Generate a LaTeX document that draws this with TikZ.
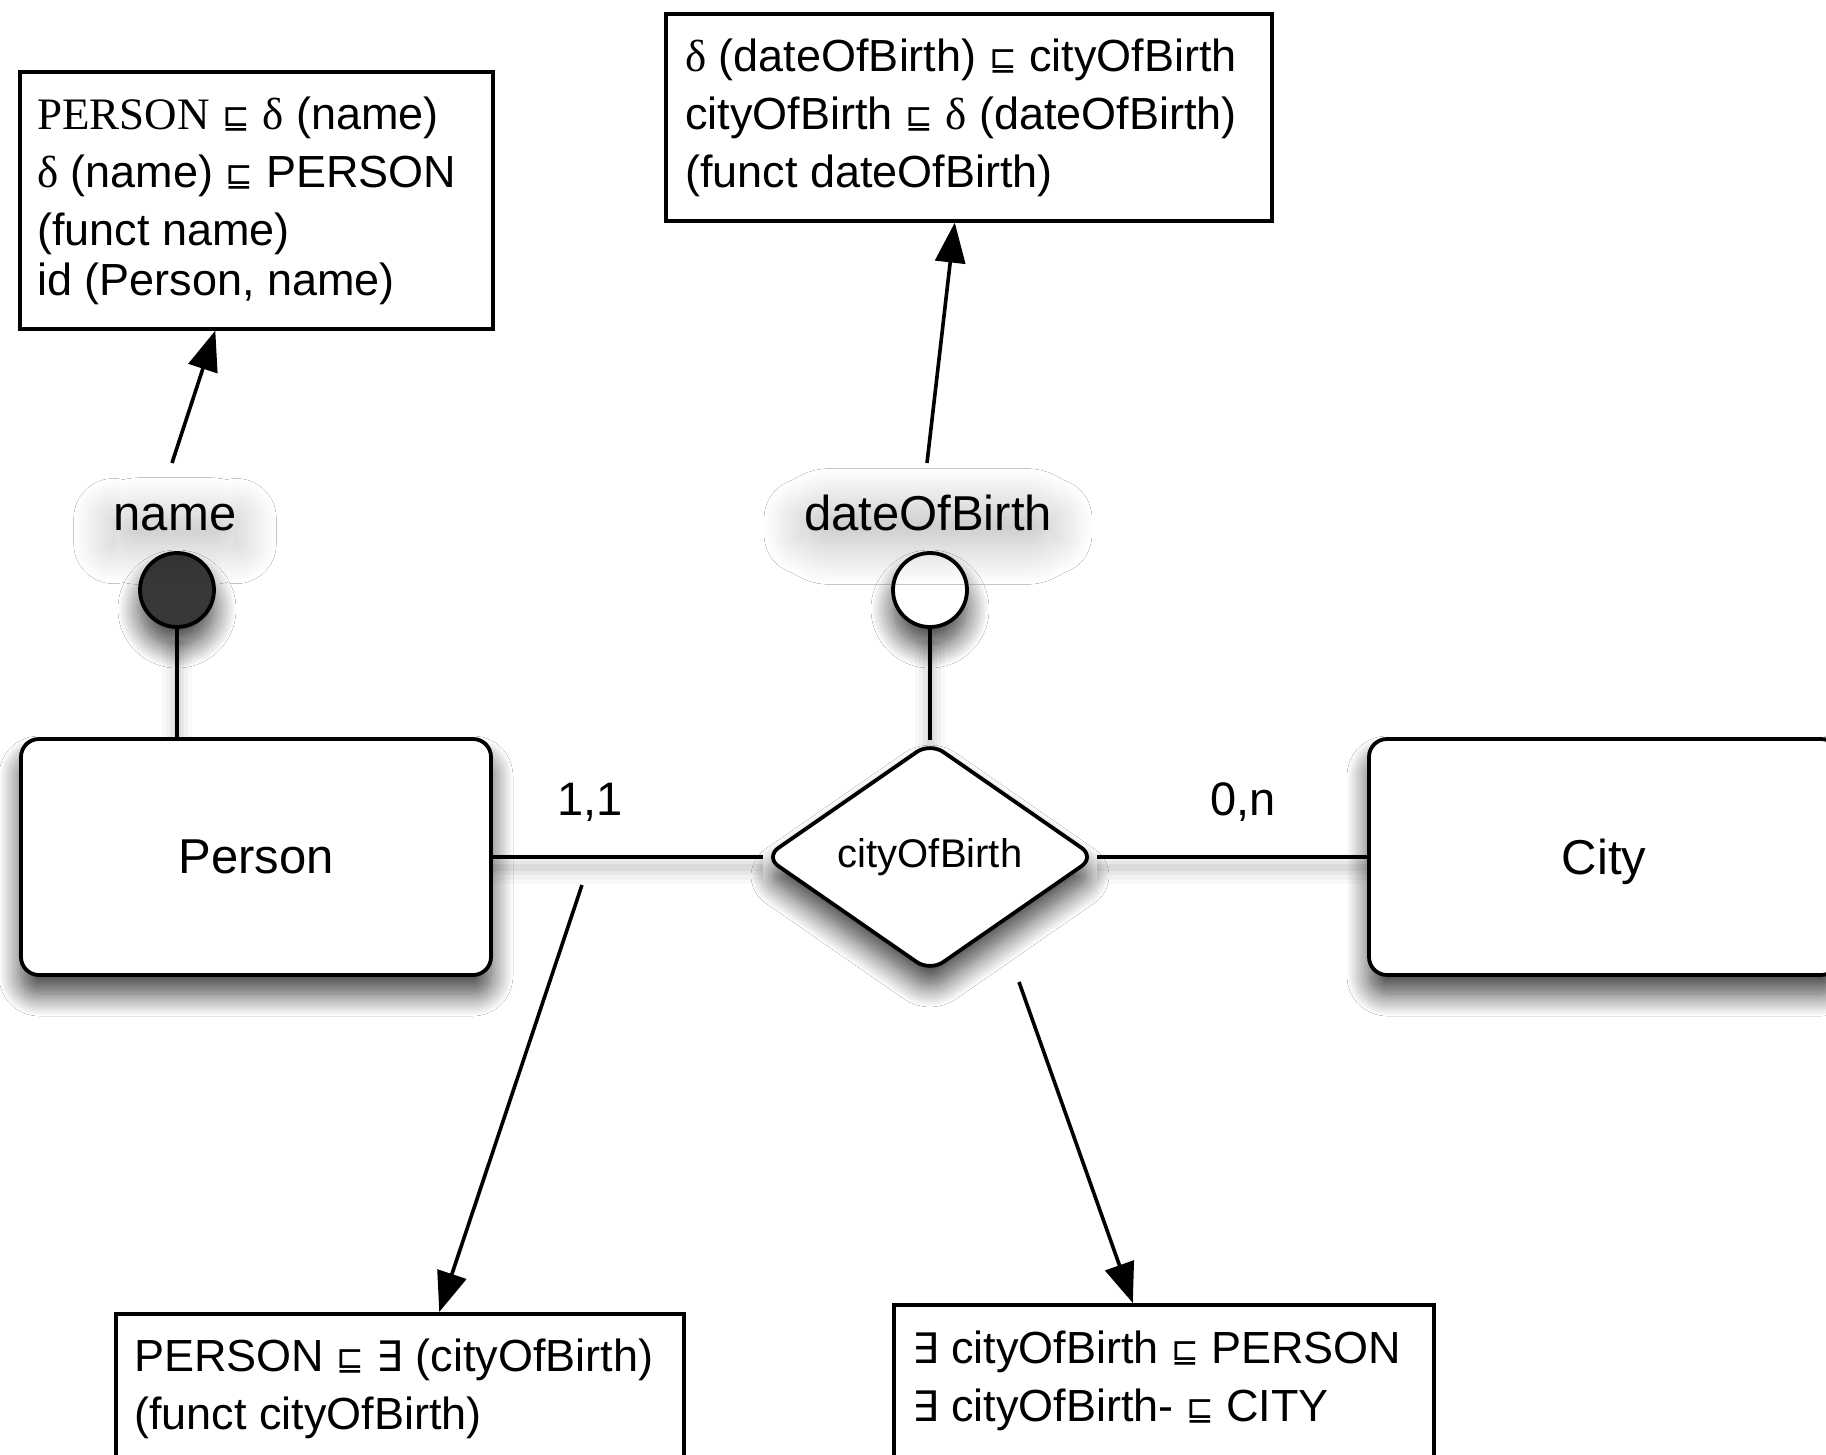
\documentclass[tikz,border=0pt]{standalone}
\usepackage{fontspec}
\setmainfont{Liberation Sans}
\newfontfamily\serifface{Liberation Serif}
\newfontfamily\symface{DejaVu Sans}
\usetikzlibrary{shapes.geometric,arrows.meta,calc,shadows.blur,backgrounds}

% logic symbols used in the axiom boxes
\newcommand\sqle{\raisebox{1pt}{\symface\fontsize{33}{33}\selectfont ⊑}}
\newcommand\dl{{\serifface δ}}
\newcommand\exs{{\symface\fontsize{42}{42}\selectfont ∃}}
% fixed height of the first line of an axiom box
\newcommand\firstline{\rule{0pt}{40pt}}

\begin{document}
\begin{tikzpicture}[x=1pt,y=-1pt,
  softshadow/.style={blur shadow={shadow xshift=0pt,shadow yshift=-19pt,shadow blur radius=22pt,shadow blur steps=20,shadow opacity=75}},
  haze/.style={blur shadow={shadow xshift=0pt,shadow yshift=-14pt,shadow blur radius=40pt,shadow blur steps=24,shadow blur extra rounding=26pt,shadow opacity=26}},
  entity/.style={draw,line width=3.8pt,rounded corners=18pt,fill=white,minimum width=470pt,minimum height=236pt,
    font=\fontsize{49}{59}\selectfont,text depth=0pt,softshadow},
  relation/.style={diamond,draw,line width=3.8pt,rounded corners=16pt,fill=white,minimum width=331pt,minimum height=230pt,
    inner sep=0pt,font=\fontsize{40}{48}\selectfont,softshadow},
  attrib/.style={circle,draw,line width=3.8pt,minimum size=74pt,inner sep=0pt,softshadow},
  attrlabel/.style={font=\fontsize{49}{59}\selectfont,inner sep=0pt,anchor=base,haze},
  card/.style={font=\fontsize{47}{56}\selectfont,anchor=base},
  axbox/.style={draw,line width=3.6pt,anchor=north west,inner sep=0pt},
  axtext/.style={anchor=north west,align=left,inner sep=0pt,font=\fontsize{45}{58}\selectfont},
  link/.style={line width=3.8pt,
    preaction={draw,line width=30pt,black,opacity=0.025,transform canvas={yshift=-12pt}},
    preaction={draw,line width=22pt,black,opacity=0.03,transform canvas={yshift=-12pt}},
    preaction={draw,line width=14pt,black,opacity=0.04,transform canvas={yshift=-11pt}},
    preaction={draw,line width=7pt,black,opacity=0.05,transform canvas={yshift=-10pt}}},
  axarrow/.style={line width=3.6pt,-{Triangle[length=40pt,width=30pt]}},
]
\useasboundingbox (0,0) rectangle (1826,1455);
\clip (0,0) rectangle (1826,1455);

% axiom boxes
\node[axbox,minimum width=473pt,minimum height=257pt] (axA) at (18,70) {};
\node[axtext] (axAtext) at (37,89) {\firstline{\serifface PERSON} \sqle{} \dl{} (name)\\
  \dl{} (name) \sqle{} PERSON\\
  (funct name)\\[-8pt]
  id (Person, name)};

\node[axbox,minimum width=606pt,minimum height=207pt] (axB) at (664,12) {};
\node[axtext] (axBtext) at (685,31) {\firstline\dl{} (dateOfBirth) \sqle{} cityOfBirth\\
  cityOfBirth \sqle{} \dl{} (dateOfBirth)\\
  (funct dateOfBirth)};

\node[axbox,minimum width=568pt,minimum height=220pt] (axC) at (114,1312) {};
\node[axtext] (axCtext) at (134,1331) {\firstline PERSON \sqle{} \exs{} (cityOfBirth)\\
  (funct cityOfBirth)};

\node[axbox,minimum width=540pt,minimum height=220pt] (axD) at (892,1303) {};
\node[axtext] (axDtext) at (912,1323) {\firstline\exs{} cityOfBirth \sqle{} PERSON\\
  \exs{} cityOfBirth- \sqle{} CITY};

% ER elements
\node[entity] (person) at (256,857) {Person};
\node[entity] (city) at (1604,857) {City};
\node[relation] (rel) at (930,857) {cityOfBirth};
\node[attrib,fill=black!78] (nameAttr) at (177,590) {};
\node[attrib,fill=white] (dateAttr) at (930,590) {};

% attribute names and cardinalities
\node[attrlabel] (nameLabel) at (175,530) {name};
\node[attrlabel] (dateLabel) at (928,530) {dateOfBirth};
\node[card] (cardPerson) at (590,815) {1,1};
\node[card] (cardCity) at (1243,815) {0,n};

% white page and links, kept behind the shapes
\begin{scope}[on background layer]
  \fill[white] (0,0) rectangle (1826,1455);
  \draw[link] (nameAttr.south) -- (nameAttr.south |- person.north);
  \draw[link] (dateAttr.south) -- (rel.north);
  \draw[link] (person.east) -- (rel.west);
  \draw[link] (rel.east) -- (city.west);
\end{scope}

% arrows to the axiom boxes
\coordinate (nameTail) at (172,463);
\coordinate (dateTail) at (927,463);
\coordinate (personTail) at (582,885);
\coordinate (cityTail) at (1019,982);
\draw[axarrow] (nameTail) -- ($(axA.south west)!0.414!(axA.south east)$);
\draw[axarrow] (dateTail) -- ($(axB.south west)!0.477!(axB.south east)$);
\draw[axarrow] (personTail) -- ($(axC.north west)!0.569!(axC.north east)$);
\draw[axarrow] (cityTail) -- ($(axD.north west)!0.443!(axD.north east)$);
\end{tikzpicture}
\end{document}
